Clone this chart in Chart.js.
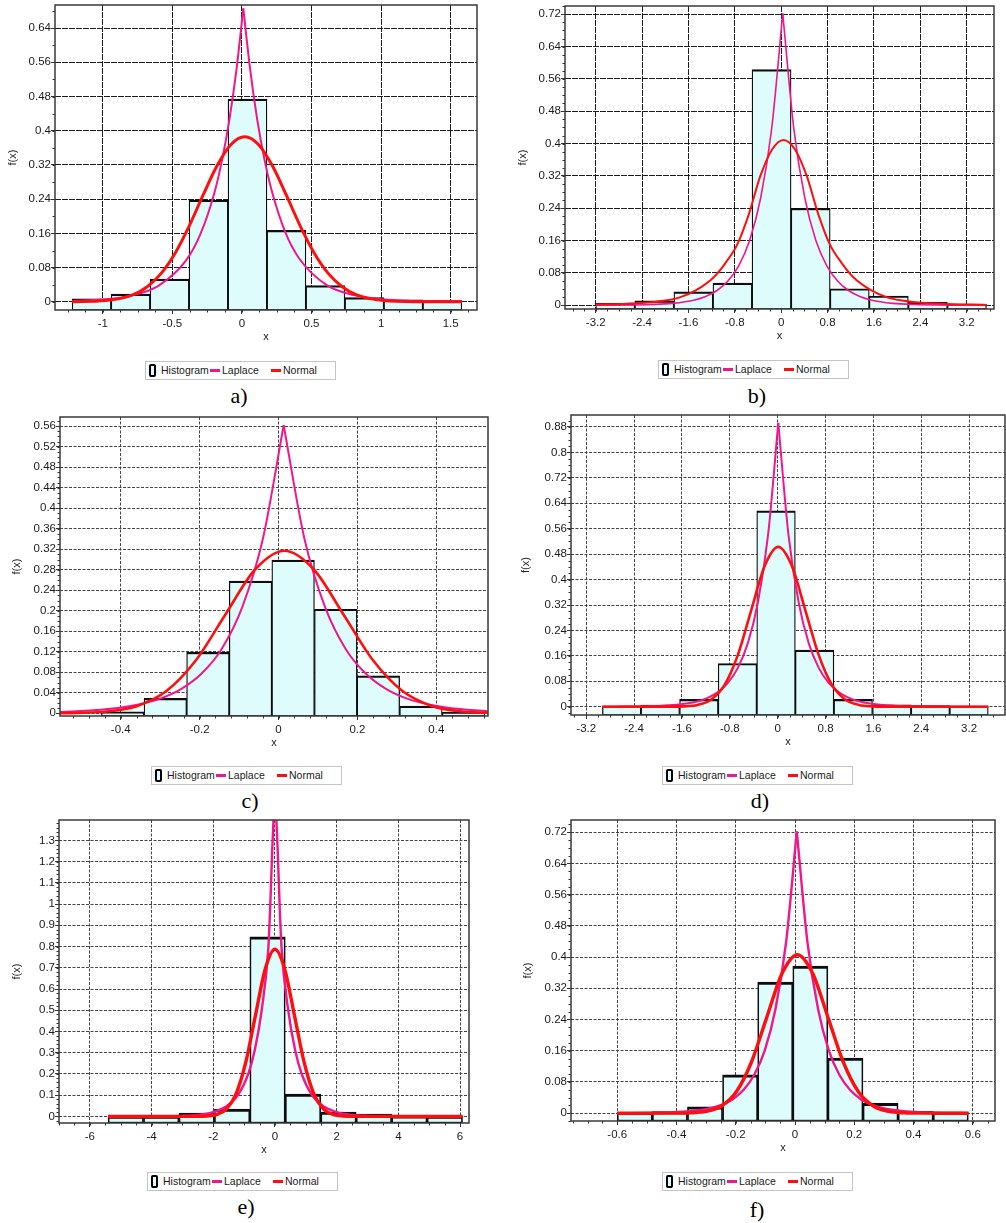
<!DOCTYPE html>
<html>
<head>
<meta charset="utf-8">
<title>Histogram with Laplace and Normal fits</title>
<script src="https://cdn.jsdelivr.net/npm/chart.js@4.4.1/dist/chart.umd.min.js"></script>
<style>
  body { margin: 0; width: 1006px; height: 1223px; background: #fff; position: relative; overflow: hidden; }
  canvas { position: absolute; }
  .legend { position: absolute; width: 189px; height: 17px; border: 1px solid #c4c4c4; background: #fff;
            font: 10.5px "Liberation Sans", Arial, sans-serif; color: #1a1a1a; }
  .legend span { position: absolute; top: 2px; white-space: nowrap; }
  .legend .box { top: 2px; left: 3px; width: 7px; height: 13px; box-sizing: border-box; border: 2px solid #000; border-radius: 2px; background: #dffcfd; }
  .legend .ln { top: 7px; height: 3px; }
  .cap { position: absolute; font: 22px "Liberation Serif", "Times New Roman", serif; color: #000; transform: translate(-50%, -50%); }
</style>
</head>
<body>
<script>
// ---- a) ----
const aEdges = [-1.22, -0.94, -0.66, -0.38, -0.10, 0.18, 0.46, 0.74, 1.02, 1.30, 1.58];
const aHist = [0.007, 0.018, 0.053, 0.238, 0.474, 0.167, 0.038, 0.010, 0.005, 0.003];
const aLapX = [-1.22, -1.0, -0.8, -0.6, -0.4, -0.3, -0.2, -0.14, -0.09, -0.04, 0.01, 0.06, 0.11, 0.16, 0.21, 0.31, 0.41, 0.61, 0.81, 1.01, 1.21, 1.58];
const aLapY = [0.002, 0.0056, 0.0145, 0.0376, 0.0974, 0.157, 0.252, 0.336, 0.426, 0.541, 0.686, 0.541, 0.426, 0.336, 0.265, 0.164, 0.102, 0.039, 0.0152, 0.0059, 0.0023, 0.0004];
const aNormX = [-1.22, -0.98, -0.78, -0.68, -0.58, -0.48, -0.38, -0.28, -0.18, -0.08, 0.02, 0.12, 0.22, 0.32, 0.42, 0.52, 0.62, 0.72, 0.82, 1.02, 1.26, 1.58];
const aNormY = [0.0002, 0.0029, 0.017, 0.0353, 0.0666, 0.1139, 0.1767, 0.2487, 0.3175, 0.3675, 0.386, 0.3675, 0.3175, 0.2487, 0.1767, 0.1139, 0.0666, 0.0353, 0.017, 0.0029, 0.0002, 0];
const aXTicks = [-1, -0.5, 0, 0.5, 1, 1.5];
const aYTicks = [0, 0.08, 0.16, 0.24, 0.32, 0.4, 0.48, 0.56, 0.64];

// ---- b) ----
const bEdges = [-3.2, -2.526, -1.852, -1.178, -0.504, 0.17, 0.844, 1.518, 2.192, 2.866, 3.54];
const bHist = [0.005, 0.011, 0.033, 0.055, 0.583, 0.240, 0.041, 0.023, 0.007, 0.003];
const bLapX = [-3.2, -3.014, -2.634, -2.254, -1.874, -1.494, -1.304, -1.114, -0.924, -0.734, -0.544, -0.354, -0.164, 0.026, 0.216, 0.406, 0.596, 0.786, 0.976, 1.166, 1.356, 1.546, 1.926, 2.306, 2.686, 3.066, 3.54];
const bLapY = [0.0001, 0.0002, 0.0006, 0.0018, 0.0048, 0.0132, 0.0218, 0.036, 0.0593, 0.0977, 0.161, 0.266, 0.438, 0.722, 0.438, 0.266, 0.161, 0.0977, 0.0593, 0.036, 0.0218, 0.0132, 0.0048, 0.0018, 0.0006, 0.0002, 0.0001];
const bNormX = [-3.2, -2.66, -2.16, -1.76, -1.46, -1.16, -0.96, -0.76, -0.56, -0.36, -0.16, 0.04, 0.24, 0.44, 0.64, 0.84, 1.04, 1.24, 1.54, 1.84, 2.24, 2.74, 3.54];
const bNormY = [0.002, 0.004, 0.009, 0.019, 0.038, 0.07, 0.105, 0.15, 0.225, 0.32, 0.385, 0.409, 0.385, 0.32, 0.225, 0.15, 0.105, 0.07, 0.038, 0.019, 0.009, 0.004, 0.001];
const bXTicks = [-3.2, -2.4, -1.6, -0.8, 0, 0.8, 1.6, 2.4, 3.2];
const bYTicks = [0, 0.08, 0.16, 0.24, 0.32, 0.4, 0.48, 0.56, 0.64, 0.72];

// ---- c) ----
const cEdges = [-0.449, -0.341, -0.233, -0.125, -0.017, 0.091, 0.199, 0.307, 0.415, 0.523];
const cHist = [0.003, 0.029, 0.119, 0.258, 0.299, 0.203, 0.073, 0.014, 0.002];
const cLapX = [-0.554, -0.512, -0.407, -0.3545, -0.302, -0.2495, -0.197, -0.1445, -0.092, -0.0395, 0.013, 0.0655, 0.118, 0.1705, 0.223, 0.2755, 0.328, 0.3805, 0.433, 0.53];
const cLapY = [0.0026, 0.0038, 0.0103, 0.017, 0.028, 0.0461, 0.076, 0.125, 0.207, 0.341, 0.562, 0.341, 0.207, 0.125, 0.076, 0.0461, 0.028, 0.017, 0.0103, 0.0042];
const cNormX = [-0.554, -0.51, -0.435, -0.36, -0.285, -0.21, -0.135, -0.06, 0.015, 0.09, 0.165, 0.24, 0.315, 0.39, 0.465, 0.53];
const cNormY = [0.0002, 0.0007, 0.0035, 0.0139, 0.0429, 0.1029, 0.1923, 0.28, 0.317, 0.28, 0.1923, 0.1029, 0.0429, 0.0139, 0.0035, 0.001];
const cXTicks = [-0.4, -0.2, 0, 0.2, 0.4];
const cYTicks = [0, 0.04, 0.08, 0.12, 0.16, 0.2, 0.24, 0.28, 0.32, 0.36, 0.4, 0.44, 0.48, 0.52, 0.56];

// ---- d) ----
const dEdges = [-2.93, -2.285, -1.64, -0.995, -0.35, 0.295, 0.94, 1.585, 2.23, 2.875, 3.52];
const dHist = [0.002, 0.005, 0.023, 0.136, 0.616, 0.178, 0.023, 0.006, 0.004, 0.002];
const dLapX = [-2.93, -2.71, -2.37, -2.03, -1.69, -1.35, -1.18, -1.01, -0.84, -0.67, -0.50, -0.33, -0.16, 0.01, 0.18, 0.35, 0.52, 0.69, 0.86, 1.03, 1.20, 1.37, 1.71, 2.05, 2.39, 2.73, 3.52];
const dLapY = [0.0001, 0.0003, 0.0008, 0.0022, 0.006, 0.0163, 0.027, 0.0445, 0.0733, 0.1208, 0.1992, 0.3285, 0.5416, 0.893, 0.5416, 0.3285, 0.1992, 0.1208, 0.0733, 0.0445, 0.027, 0.0163, 0.006, 0.0022, 0.0008, 0.0003, 0.0001];
const dNormX = [-2.93, -1.79, -1.565, -1.34, -1.115, -0.89, -0.665, -0.44, -0.215, 0.01, 0.235, 0.46, 0.685, 0.91, 1.135, 1.36, 1.585, 1.81, 3.52];
const dNormY = [0, 0.0002, 0.0011, 0.0056, 0.0221, 0.0681, 0.1633, 0.305, 0.444, 0.503, 0.444, 0.305, 0.1633, 0.0681, 0.0221, 0.0056, 0.0011, 0.0002, 0];
const dXTicks = [-3.2, -2.4, -1.6, -0.8, 0, 0.8, 1.6, 2.4, 3.2];
const dYTicks = [0, 0.08, 0.16, 0.24, 0.32, 0.4, 0.48, 0.56, 0.64, 0.72, 0.8, 0.88];

// ---- e) ----
const eEdges = [-5.41, -4.261, -3.112, -1.963, -0.814, 0.335, 1.484, 2.633, 3.782, 4.931, 6.08];
const eHist = [0.002, 0.002, 0.016, 0.035, 0.846, 0.105, 0.021, 0.011, 0.003, 0.002];
const eLapX = [-5.41, -4.0, -3.0, -2.5, -2.0, -1.6, -1.2, -0.865, -0.65, -0.43, -0.216, -0.15, -0.087, 0, 0.087, 0.15, 0.216, 0.43, 0.65, 0.865, 1.2, 1.6, 2.0, 2.5, 3.0, 4.0, 6.08];
const eLapY = [0, 0.0003, 0.0025, 0.007, 0.02, 0.045, 0.1, 0.2, 0.315, 0.5, 0.79, 1.0, 1.26, 1.55, 1.26, 1.0, 0.79, 0.5, 0.315, 0.2, 0.1, 0.045, 0.02, 0.007, 0.0025, 0.0003, 0];
const eNormX = [-5.41, -2.52, -2.205, -1.89, -1.575, -1.26, -0.945, -0.63, -0.315, 0, 0.315, 0.63, 0.945, 1.26, 1.575, 1.89, 2.205, 2.52, 6.08];
const eNormY = [0, 0.0002, 0.0017, 0.0087, 0.0345, 0.1065, 0.2555, 0.4773, 0.6945, 0.787, 0.6945, 0.4773, 0.2555, 0.1065, 0.0345, 0.0087, 0.0017, 0.0002, 0];
const eXTicks = [-6, -4, -2, 0, 2, 4, 6];
const eYTicks = [0, 0.1, 0.2, 0.3, 0.4, 0.5, 0.6, 0.7, 0.8, 0.9, 1, 1.1, 1.2, 1.3];

// ---- f) ----
const fEdges = [-0.6, -0.4815, -0.363, -0.2445, -0.126, -0.0075, 0.111, 0.2295, 0.348, 0.4665, 0.585];
const fHist = [0.002, 0.004, 0.016, 0.098, 0.336, 0.377, 0.141, 0.025, 0.005, 0.003];
const fLapX = [-0.6, -0.57, -0.498, -0.426, -0.354, -0.282, -0.246, -0.21, -0.174, -0.138, -0.102, -0.066, -0.03, 0.006, 0.042, 0.078, 0.114, 0.15, 0.186, 0.222, 0.258, 0.294, 0.366, 0.438, 0.51, 0.585];
const fLapY = [0.0001, 0.0002, 0.0006, 0.0018, 0.0048, 0.0132, 0.0218, 0.036, 0.0593, 0.0977, 0.161, 0.266, 0.438, 0.722, 0.438, 0.266, 0.161, 0.0977, 0.0593, 0.036, 0.0218, 0.0132, 0.0048, 0.0018, 0.0006, 0.0002];
const fNormX = [-0.6, -0.404, -0.3525, -0.301, -0.2495, -0.198, -0.1465, -0.095, -0.0435, 0.008, 0.0595, 0.111, 0.1625, 0.214, 0.2655, 0.317, 0.3685, 0.42, 0.585];
const fNormY = [0, 0.0001, 0.0009, 0.0045, 0.0178, 0.0549, 0.1318, 0.2462, 0.3583, 0.406, 0.3583, 0.2462, 0.1318, 0.0549, 0.0178, 0.0045, 0.0009, 0.0001, 0];
const fXTicks = [-0.6, -0.4, -0.2, 0, 0.2, 0.4, 0.6];
const fYTicks = [0, 0.08, 0.16, 0.24, 0.32, 0.4, 0.48, 0.56, 0.64, 0.72];

const panels = [
  {name: 'a', edges: aEdges, hist: aHist, lapX: aLapX, lapY: aLapY, normX: aNormX, normY: aNormY, xTicks: aXTicks, yTicks: aYTicks},
  {name: 'b', edges: bEdges, hist: bHist, lapX: bLapX, lapY: bLapY, normX: bNormX, normY: bNormY, xTicks: bXTicks, yTicks: bYTicks},
  {name: 'c', edges: cEdges, hist: cHist, lapX: cLapX, lapY: cLapY, normX: cNormX, normY: cNormY, xTicks: cXTicks, yTicks: cYTicks},
  {name: 'd', edges: dEdges, hist: dHist, lapX: dLapX, lapY: dLapY, normX: dNormX, normY: dNormY, xTicks: dXTicks, yTicks: dYTicks},
  {name: 'e', edges: eEdges, hist: eHist, lapX: eLapX, lapY: eLapY, normX: eNormX, normY: eNormY, xTicks: eXTicks, yTicks: eYTicks},
  {name: 'f', edges: fEdges, hist: fHist, lapX: fLapX, lapY: fLapY, normX: fNormX, normY: fNormY, xTicks: fXTicks, yTicks: fYTicks}
];

// page placement and look of each panel (pixels / styles only)
const boxes = {
  a: {left: 0, top: 0, w: 500, h: 344, area: [55, 477, 5, 310], x: [-1.343, 1.689], y: [-0.019, 0.694], minor: [0.125, 0.04], yt: 6.7, lw: [2, 3], grid: '#1e1e1e', dash: [6, 1], heavy: false, legend: [145, 361], cap: [239, 396]},
  b: {left: 500, top: 0, w: 506, h: 343, area: [565, 994, 6, 309], x: [-3.73, 3.67], y: [-0.0092, 0.7405], minor: [0.2, 0.02], yt: 16, lw: [1.6, 2], grid: '#1e1e1e', dash: [6, 1], heavy: false, legend: [658, 360], cap: [757, 396]},
  c: {left: 0, top: 405, w: 500, h: 345, area: [60, 488, 417, 716], x: [-0.554, 0.531], y: [-0.0053, 0.578], minor: [0.04, 0.01], yt: 10, lw: [2, 2.6], grid: '#444', dash: [3, 1.5], heavy: false, legend: [151, 766], cap: [250, 801]},
  d: {left: 500, top: 405, w: 506, h: 344, area: [571, 1005, 415, 715], x: [-3.455, 3.8], y: [-0.026, 0.9177], minor: [0.2, 0.02], yt: 19.4, lw: [2, 2.6], grid: '#444', dash: [3, 1.5], heavy: false, legend: [662, 766], cap: [760, 801]},
  e: {left: 0, top: 810, w: 500, h: 347, area: [59, 469, 820, 1123], x: [-7.0, 6.29], y: [-0.031, 1.396], minor: [0.5, 0.02], yt: 10, lw: [2.4, 3.4], grid: '#444', dash: [3, 1.5], heavy: true, legend: [147, 1172], cap: [246, 1207]},
  f: {left: 500, top: 810, w: 506, h: 345, area: [571, 995, 820, 1121], x: [-0.756, 0.675], y: [-0.020, 0.751], minor: [0.05, 0.02], yt: 21.7, lw: [2.4, 3.4], grid: '#444', dash: [3, 1.5], heavy: true, legend: [662, 1172], cap: [757, 1210]}
};

const FONT = '"Liberation Sans", Arial, sans-serif';
const PINK = '#f0168c';
const RED = '#ff0e0e';
const CYAN = '#dffcfd';

// minor tick marks and the plot frame
const frameAndMinor = {
  id: 'frameAndMinor',
  afterDraw(chart, args, opts) {
    const {ctx, chartArea: ca, scales: {x, y}} = chart;
    ctx.save();
    ctx.strokeStyle = '#333';
    ctx.lineWidth = 1;
    ctx.beginPath();
    for (let v = Math.ceil(x.min / opts.xStep) * opts.xStep; v <= x.max; v += opts.xStep) {
      const p = Math.round(x.getPixelForValue(v)) + 0.5;
      ctx.moveTo(p, ca.bottom); ctx.lineTo(p, ca.bottom + 2.5);
    }
    for (let v = Math.ceil(y.min / opts.yStep) * opts.yStep; v <= y.max; v += opts.yStep) {
      const p = Math.round(y.getPixelForValue(v)) + 0.5;
      ctx.moveTo(ca.left - 2.5, p); ctx.lineTo(ca.left, p);
    }
    ctx.stroke();
    ctx.lineWidth = 1.5;
    ctx.strokeStyle = '#3a3a3a';
    ctx.strokeRect(ca.left, ca.top, ca.right - ca.left, ca.bottom - ca.top);
    ctx.restore();
  }
};

const fmt = v => String(+Number(v).toFixed(4));

function drawPanel(p) {
  const L = boxes[p.name];
  const cv = document.createElement('canvas');
  cv.width = L.w; cv.height = L.h;
  cv.style.left = L.left + 'px'; cv.style.top = L.top + 'px';
  document.body.appendChild(cv);

  const [aL, aR, aT, aB] = L.area;
  const yW = aL - L.left;
  const xH = L.top + L.h - aB;

  const bars = p.hist.map((h, i) => ({x: (p.edges[i] + p.edges[i + 1]) / 2, y: h}));
  const lap = p.lapX.map((x, i) => ({x: x, y: p.lapY[i]}));
  const norm = p.normX.map((x, i) => ({x: x, y: p.normY[i]}));
  const pk = p.lapY.indexOf(Math.max(...p.lapY));

  const lineDs = (data, color, width, order) => ({
    type: 'line', data: data, borderColor: color, borderWidth: width,
    pointRadius: 0, fill: false, cubicInterpolationMode: 'monotone', order: order
  });

  new Chart(cv, {
    type: 'bar',
    data: {
      datasets: [
        {
          type: 'bar', label: 'Histogram', data: bars, base: L.y[0],
          backgroundColor: CYAN, borderColor: '#0d0d0d',
          borderWidth: L.heavy ? {top: 3, left: 1.7, right: 1.7, bottom: 1.5} : {top: 2.2, left: 1.3, right: 1.3, bottom: 1},
          borderSkipped: false, barPercentage: 1, categoryPercentage: 1, order: 3
        },
        lineDs(lap.slice(0, pk + 1), PINK, L.lw[0], 2),
        lineDs(lap.slice(pk), PINK, L.lw[0], 2),
        lineDs(norm, RED, L.lw[1], 1)
      ]
    },
    options: {
      responsive: false,
      animation: false,
      devicePixelRatio: 1,
      layout: {padding: {left: 0, top: aT - L.top, right: L.left + L.w - aR, bottom: 0}},
      plugins: {
        legend: {display: false},
        tooltip: {enabled: false},
        frameAndMinor: {xStep: L.minor[0], yStep: L.minor[1]}
      },
      scales: {
        x: {
          type: 'linear', min: L.x[0], max: L.x[1], bounds: 'data', offset: false,
          afterBuildTicks: s => { s.ticks = p.xTicks.map(v => ({value: v})); },
          afterFit: s => { s.height = xH; s.paddingLeft = 0; s.paddingRight = 0; },
          grid: {offset: false, color: L.grid, lineWidth: 1, drawTicks: true, tickLength: 4, tickColor: '#333', borderDash: L.dash},
          border: {display: false, dash: L.dash},
          ticks: {callback: fmt, color: '#1a1a1a', font: {family: FONT, size: 11.5}, padding: 3, maxRotation: 0, autoSkip: false},
          title: {display: true, text: 'x', color: '#222', font: {family: FONT, size: 11}, padding: {top: 0, bottom: 0}}
        },
        y: {
          type: 'linear', min: L.y[0], max: L.y[1], bounds: 'data',
          afterBuildTicks: s => { s.ticks = p.yTicks.map(v => ({value: v})); },
          afterFit: s => { s.width = yW; s.paddingTop = 0; s.paddingBottom = 0; },
          grid: {color: L.grid, lineWidth: 1, drawTicks: true, tickLength: 4, tickColor: '#333', borderDash: L.dash},
          border: {display: false, dash: L.dash},
          ticks: {callback: fmt, color: '#1a1a1a', font: {family: FONT, size: 11.5}, padding: 0, autoSkip: false},
          title: {display: true, text: 'f(x)', color: '#222', font: {family: FONT, size: 11}, padding: {top: L.yt, bottom: 0}}
        }
      }
    },
    plugins: [frameAndMinor]
  });

  // legend box under the chart
  const lg = document.createElement('div');
  lg.className = 'legend';
  lg.style.left = L.legend[0] + 'px';
  lg.style.top = L.legend[1] + 'px';
  lg.innerHTML =
    '<span class="box"' + (L.heavy ? ' style="border-width:2.5px"' : '') + '></span>' +
    '<span style="left:15px">Histogram</span>' +
    '<span class="ln" style="left:64px;width:10px;background:' + PINK + '"></span>' +
    '<span style="left:76px">Laplace</span>' +
    '<span class="ln" style="left:125px;width:10px;background:' + RED + '"></span>' +
    '<span style="left:137px">Normal</span>';
  document.body.appendChild(lg);

  const cap = document.createElement('div');
  cap.className = 'cap';
  cap.style.left = L.cap[0] + 'px';
  cap.style.top = L.cap[1] + 'px';
  cap.textContent = p.name + ')';
  document.body.appendChild(cap);
}

panels.forEach(drawPanel);
</script>
</body>
</html>
